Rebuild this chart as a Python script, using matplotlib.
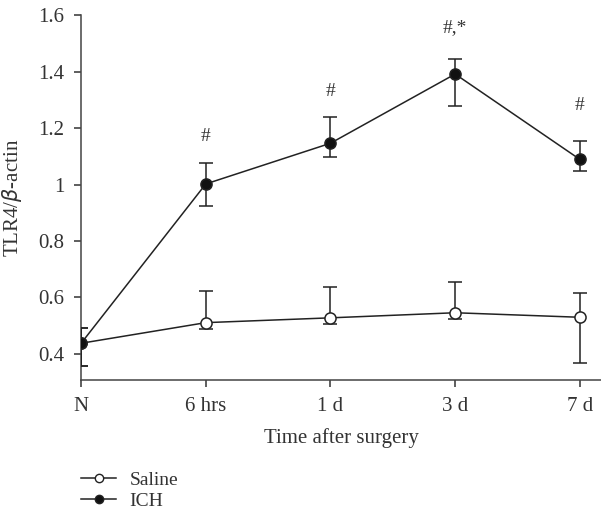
import matplotlib.pyplot as plt
from matplotlib.lines import Line2D

plt.rcParams["font.family"] = ["Liberation Serif", "DejaVu Serif"]

time_labels = ["N", "6 hrs", "1 d", "3 d", "7 d"]

saline_mean = [0.438, 0.511, 0.528, 0.546, 0.530]
saline_upper = [0.492, 0.624, 0.638, 0.655, 0.617]
saline_lower = [0.359, 0.487, 0.505, 0.523, 0.367]

ich_mean = [0.438, 1.002, 1.146, 1.391, 1.089]
ich_upper = [0.492, 1.077, 1.238, 1.443, 1.155]
ich_lower = [0.359, 0.925, 1.096, 1.278, 1.049]

marks = ["", "#", "#", "#,*", "#"]
mark_y = [None, 1.169, 1.329, 1.554, 1.280]


def draw(ax, mean, upper, lower, face):
    x = list(range(len(mean)))
    err = [[m - lo for m, lo in zip(mean, lower)], [u - m for m, u in zip(mean, upper)]]
    ax.errorbar(x, mean, yerr=err, color="#222222", lw=1.1, elinewidth=1.1,
                capsize=5, capthick=1.1, marker="o", ms=8, mfc=face,
                mec="#222222", mew=1.1, zorder=3)


fig = plt.figure(figsize=(6.01, 5.16), dpi=100)
ax = fig.add_axes([0.135, 0.2636, 0.865, 0.7073])

draw(ax, saline_mean, saline_upper, saline_lower, "white")
draw(ax, ich_mean, ich_upper, ich_lower, "#111111")

for i, (t, y) in enumerate(zip(marks, mark_y)):
    if t:
        ax.text(i, y, t, ha="center", va="center", fontsize=14, color="#333333")

ax.set_xlim(0, 4.17)
ax.set_ylim(0.308, 1.6)
ax.set_xticks(range(len(time_labels)))
ax.set_xticklabels(time_labels)
ax.set_yticks([0.4, 0.6, 0.8, 1.0, 1.2, 1.4, 1.6])
ax.set_yticklabels(["0.4", "0.6", "0.8", "1", "1.2", "1.4", "1.6"])
ax.tick_params(labelsize=15, colors="#333333", width=1.1, length=5, pad=7)
for s in ["top", "right"]:
    ax.spines[s].set_visible(False)
for s in ["left", "bottom"]:
    ax.spines[s].set_color("#444444")
    ax.spines[s].set_linewidth(1.1)

ax.set_xlabel("Time after surgery", fontsize=15, color="#333333", labelpad=9)
ax.set_ylabel(r"TLR4/$\beta$-actin", fontsize=15, color="#333333", labelpad=10)

handles = [
    Line2D([], [], color="#222222", lw=1.1, marker="o", ms=6, mfc="white", mec="#222222"),
    Line2D([], [], color="#222222", lw=1.1, marker="o", ms=6, mfc="#111111", mec="#222222"),
]
fig.legend(handles, ["Saline", "ICH"], loc="upper left", bbox_to_anchor=(0.135, 0.086),
           frameon=False, fontsize=14, handlelength=1.8, labelspacing=0.15,
           handletextpad=0.7, borderpad=0, borderaxespad=0, labelcolor="#333333")

fig.savefig("out.png", dpi=100)
